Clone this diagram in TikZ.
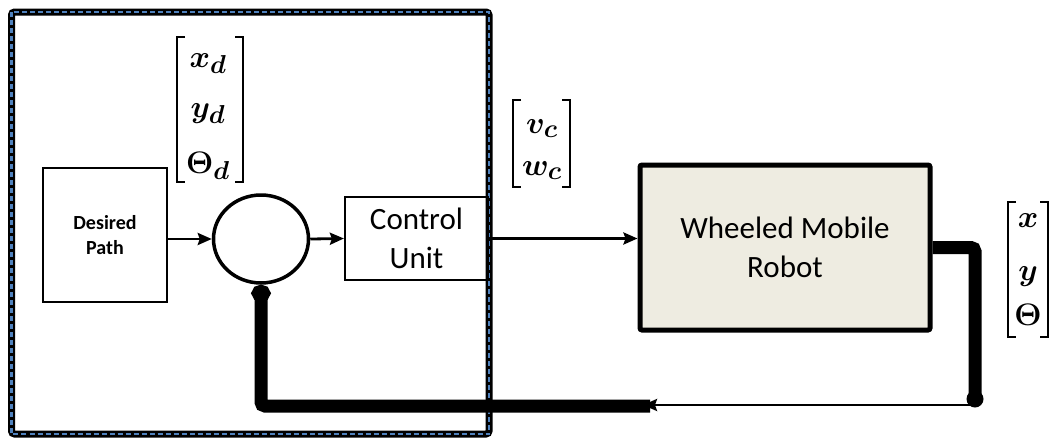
\documentclass[tikz,border=0pt]{standalone}
\usepackage{fontspec}
\setmainfont{Carlito}
\usetikzlibrary{arrows.meta,shapes.geometric}
\definecolor{beige}{HTML}{EEECE1}
\definecolor{dashblue}{HTML}{4F81BD}
\begin{document}
\begin{tikzpicture}[x=1pt,y=-1pt,
  box/.style={draw, line width=2.2pt, inner sep=0pt, align=center},
  arr/.style={line width=2.8pt, -{Stealth[length=14pt,width=12pt,inset=2pt]}},
  fb/.style={line width=13pt, rounded corners=4pt},
  brk/.style={line width=2.2pt},
  ent/.style={anchor=base, inner sep=0pt, font=\fontsize{24.88}{30}\selectfont\boldmath}]
\useasboundingbox (0,0) rectangle (1058,440);
% dashed frame
\draw[line width=7pt, rounded corners=3pt] (11.5,12) rectangle (489,434);
\draw[dashblue, line width=2.5pt, dash pattern=on 5pt off 3pt] (11.5,12) rectangle (489,434);
% blocks
\node[box, minimum width=124pt, minimum height=134pt, font=\bfseries\fontsize{20}{25}\selectfont] (dp) at (105,235) {Desired\\Path};
\node[draw, ellipse, line width=3.5pt, minimum width=95pt, minimum height=88pt, inner sep=0pt] (sum) at (261,239) {};
\node[box, minimum width=143pt, minimum height=83pt, font=\fontsize{31}{39}\selectfont] (cu) at (416.5,238.5) {Control\\Unit};
\node[draw, line width=5pt, fill=beige, rounded corners=2pt, minimum width=290pt, minimum height=165pt, inner sep=0pt, align=center, font=\fontsize{31}{39}\selectfont] (wmr) at (785,247.5) {Wheeled Mobile\\Robot};
% forward arrows
\draw[arr] (dp.east |- sum.west) -- (sum.west);
\draw[arr] (sum.east) -- (cu.west);
\draw[arr] (cu.east) -- (cu.east -| wmr.west);
% feedback
\coordinate (dot) at (975,399);
\coordinate (tip) at (643,405);
\coordinate (fbstart) at (650,406);
\draw[fb] (wmr.east) -| (dot);
\fill (dot) circle (8.5pt);
\draw[line width=2.5pt, -{Stealth[length=14pt,width=12pt,inset=2pt]}] (dot |- tip) -- (tip);
\draw[fb, -{Circle[length=17pt,width=19pt]}] (fbstart) -| (sum.south);
% matrix 1
\draw[brk] (185,37) -| (177,182) -- (185,182);
\draw[brk] (235,37) -| (243,182) -- (235,182);
\node[ent] (xd) at (208,67) {\scalebox{1.25}{$x_d$}};
\node[ent] (yd) at (208,117) {\scalebox{1.25}{$y_d$}};
\node[ent] (thd) at (208,173) {\scalebox{1.25}{$\Theta_d$}};
% matrix 2
\draw[brk] (521,100) -| (513,187) -- (521,187);
\draw[brk] (562,100) -| (570,187) -- (562,187);
\node[ent] (vc) at (542,133) {\scalebox{1.25}{$v_c$}};
\node[ent] (wc) at (542,175) {\scalebox{1.25}{$w_c$}};
% matrix 3
\draw[brk] (1016,202) -| (1008,337) -- (1016,337);
\draw[brk] (1040,202) -| (1048,337) -- (1040,337);
\node[ent] (xo) at (1028,227) {\scalebox{1.25}{$x$}};
\node[ent] (yo) at (1028,280) {\scalebox{1.25}{$y$}};
\node[ent] (tho) at (1028,325) {\scalebox{1.25}{$\Theta$}};
\end{tikzpicture}
\end{document}
